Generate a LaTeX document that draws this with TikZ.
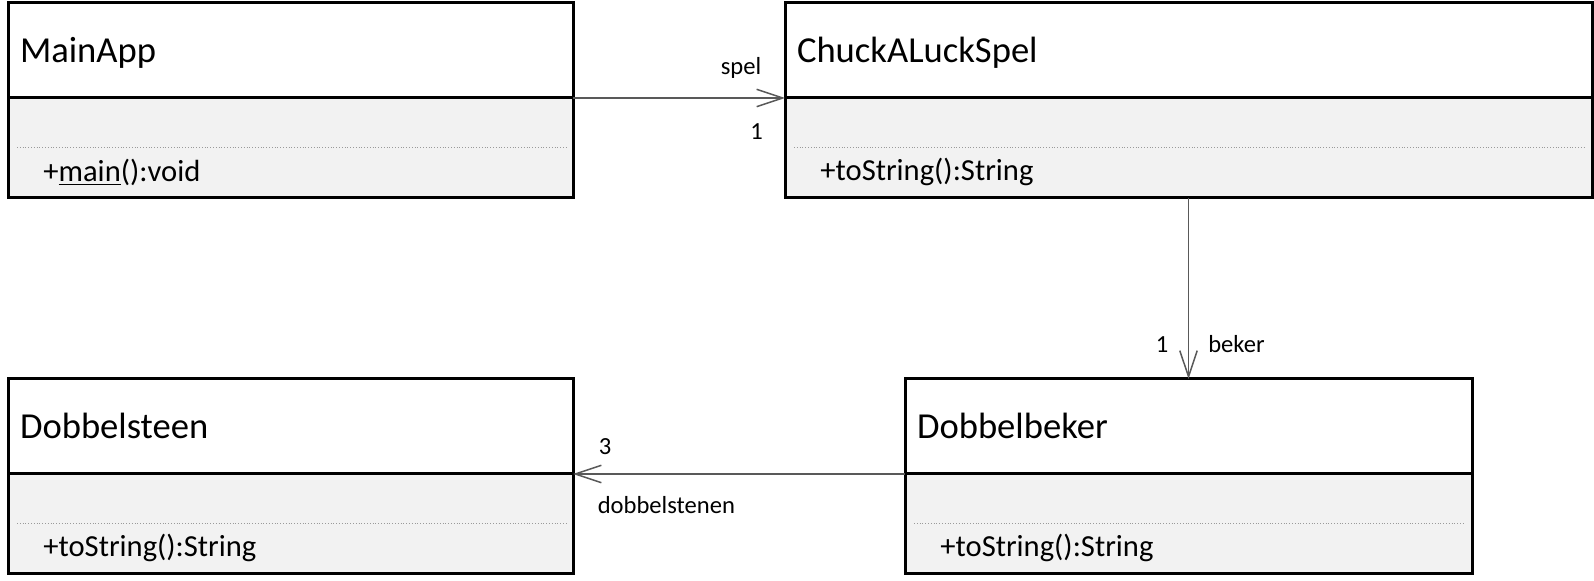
\documentclass[tikz,border=0pt]{standalone}
\usepackage{fontspec}
\setmainfont{Carlito}
\usepackage{tikz}
\usetikzlibrary{arrows.meta, positioning}

\definecolor{bodygray}{HTML}{F2F2F2}
\definecolor{linegray}{HTML}{595959}
\definecolor{sepgray}{HTML}{9A9A9A}

\begin{document}
\begin{tikzpicture} [x=0.5pt, y=-0.5pt,
            classname/.style = {draw, line width=1.5pt, fill=white, outer sep=0pt,
                minimum width=#1, text width=#1-12pt, minimum height=47.5pt,
                inner xsep=6pt, inner ysep=0pt, align=left,
                text height=16pt, text depth=3.7pt,
                font=\fontsize{18.3}{22}\selectfont},
            classbody/.style = {draw, line width=1.5pt, fill=bodygray, outer sep=0pt,
                minimum width=#1, minimum height=50pt, inner sep=0pt,
                path picture={\draw[sepgray, line width=0.4pt, densely dotted]
                    ([xshift=4.5pt, yshift=-24.5pt]path picture bounding box.north west) --
                    ([xshift=-3.5pt, yshift=-24.5pt]path picture bounding box.north east);}},
            member/.style = {inner sep=0pt, anchor=west,
                font=\fontsize{15.3}{18}\selectfont},
            role/.style = {inner sep=0pt, font=\fontsize{12.3}{15}\selectfont},
            assoc/.style = {draw=linegray, line width=0.75pt,
                -{Straight Barb[length=13pt, width=8.7pt]}}]

            \useasboundingbox (0,0) rectangle (1594,581);

            % Class MainApp
            \node (mainTitle) [classname=282.5pt, anchor=north west] at (8,3) {MainApp};
            \node (mainBody) [classbody=282.5pt, below=0pt of mainTitle] {};
            \node (mainOps) [member] at ([xshift=17.5pt, yshift=13pt]mainBody.south west)
                {+\underline{main}():void};

            % Class ChuckALuckSpel
            \node (spelTitle) [classname=403.5pt, right=106pt of mainTitle] {ChuckALuckSpel};
            \node (spelBody) [classbody=403.5pt, below=0pt of spelTitle] {};
            \node (spelOps) [member] at ([xshift=17.5pt, yshift=13pt]spelBody.south west)
                {+toString():String};

            % Class Dobbelsteen
            \node (steenTitle) [classname=282.5pt, below=90.5pt of mainBody] {Dobbelsteen};
            \node (steenBody) [classbody=282.5pt, below=0pt of steenTitle] {};
            \node (steenOps) [member] at ([xshift=17.5pt, yshift=13pt]steenBody.south west)
                {+toString():String};

            % Class Dobbelbeker
            \node (bekerTitle) [classname=283.5pt, right=166pt of steenTitle] {Dobbelbeker};
            \node (bekerBody) [classbody=283.5pt, below=0pt of bekerTitle] {};
            \node (bekerOps) [member] at ([xshift=17.5pt, yshift=13pt]bekerBody.south west)
                {+toString():String};

            % Associations
            \path [assoc] (mainTitle.south east) -- (spelTitle.south west)
                node (spelRole) [role, at end, anchor=south east, xshift=-11.5pt, yshift=9.5pt] {spel}
                node (spelMult) [role, at end, anchor=north east, xshift=-10.75pt, yshift=-12.5pt] {1};

            \path [assoc] (spelBody.south) -- (bekerTitle.north)
                node (bekerMult) [role, at end, anchor=south east, xshift=-9.75pt, yshift=13pt] {1}
                node (bekerRole) [role, at end, anchor=south west, xshift=9.5pt, yshift=12.6pt] {beker};

            \path [assoc] (bekerTitle.south west) -- (steenTitle.south east)
                node (steenMult) [role, at end, anchor=south west, xshift=12.5pt, yshift=9.5pt] {3}
                node (steenRole) [role, at end, anchor=north west, xshift=12pt, yshift=-11pt] {dobbelstenen};
        \end{tikzpicture}
\end{document}
